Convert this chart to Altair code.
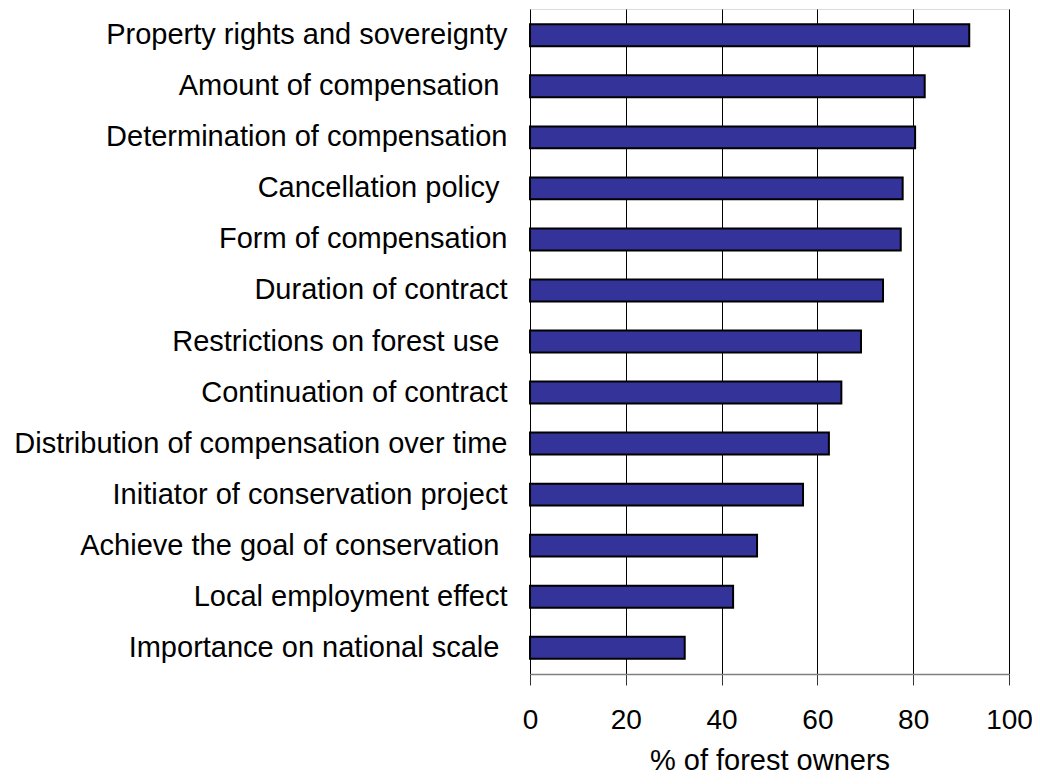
import altair as alt
import pandas as pd

categories = [
    "Property rights and sovereignty",
    "Amount of compensation\u00a0\u200b",
    "Determination of compensation",
    "Cancellation policy\u00a0\u200b",
    "Form of compensation",
    "Duration of contract",
    "Restrictions on forest use\u00a0\u200b",
    "Continuation of contract",
    "Distribution of compensation over time",
    "Initiator of conservation project",
    "Achieve the goal of conservation\u00a0\u200b",
    "Local employment effect",
    "Importance on national scale\u00a0\u200b",
]
values = [91.7, 82.4, 80.4, 77.8, 77.4, 73.7, 69.1, 65.0, 62.4, 57.0, 47.4, 42.4, 32.3]
x_ticks = [0, 20, 40, 60, 80, 100]

df = pd.DataFrame({"category": categories, "value": values})

FONT = "Liberation Sans"

chart = alt.Chart(df).mark_bar(
    color="#333399", stroke="black", strokeWidth=2
).encode(
    x=alt.X(
        "value:Q",
        scale=alt.Scale(domain=[0, 100], nice=False),
        axis=alt.Axis(
            values=x_ticks,
            title="% of forest owners",
            grid=True,
            gridColor="black",
            gridWidth=1,
            gridOpacity=1,
            domain=True,
            domainColor="#808080",
            domainWidth=1.5,
            ticks=True,
            tickColor="#333333",
            tickSize=11,
            labelFontSize=28,
            labelFont=FONT,
            labelColor="black",
            labelPadding=21,
            labelFlush=False,
            titleFontSize=29,
            titleFont=FONT,
            titleFontWeight="normal",
            titleColor="black",
            titlePadding=12,
        ),
    ),
    y=alt.Y(
        "category:N",
        sort=categories,
        scale=alt.Scale(paddingInner=0.57, paddingOuter=0.3),
        axis=alt.Axis(
            title=None,
            domain=False,
            ticks=False,
            grid=False,
            labelFontSize=29,
            labelFont=FONT,
            labelColor="black",
            labelPadding=23,
            labelLimit=0,
        ),
    ),
).properties(
    width=479,
    height=665,
    autosize=alt.AutoSizeParams(type="none"),
    padding={"left": 522, "top": 1, "right": 23, "bottom": 100},
).configure_view(
    stroke="#808080", strokeWidth=1.5
).configure(background="white")

chart.save("out.html", embed_options={"renderer": "svg", "actions": False})
